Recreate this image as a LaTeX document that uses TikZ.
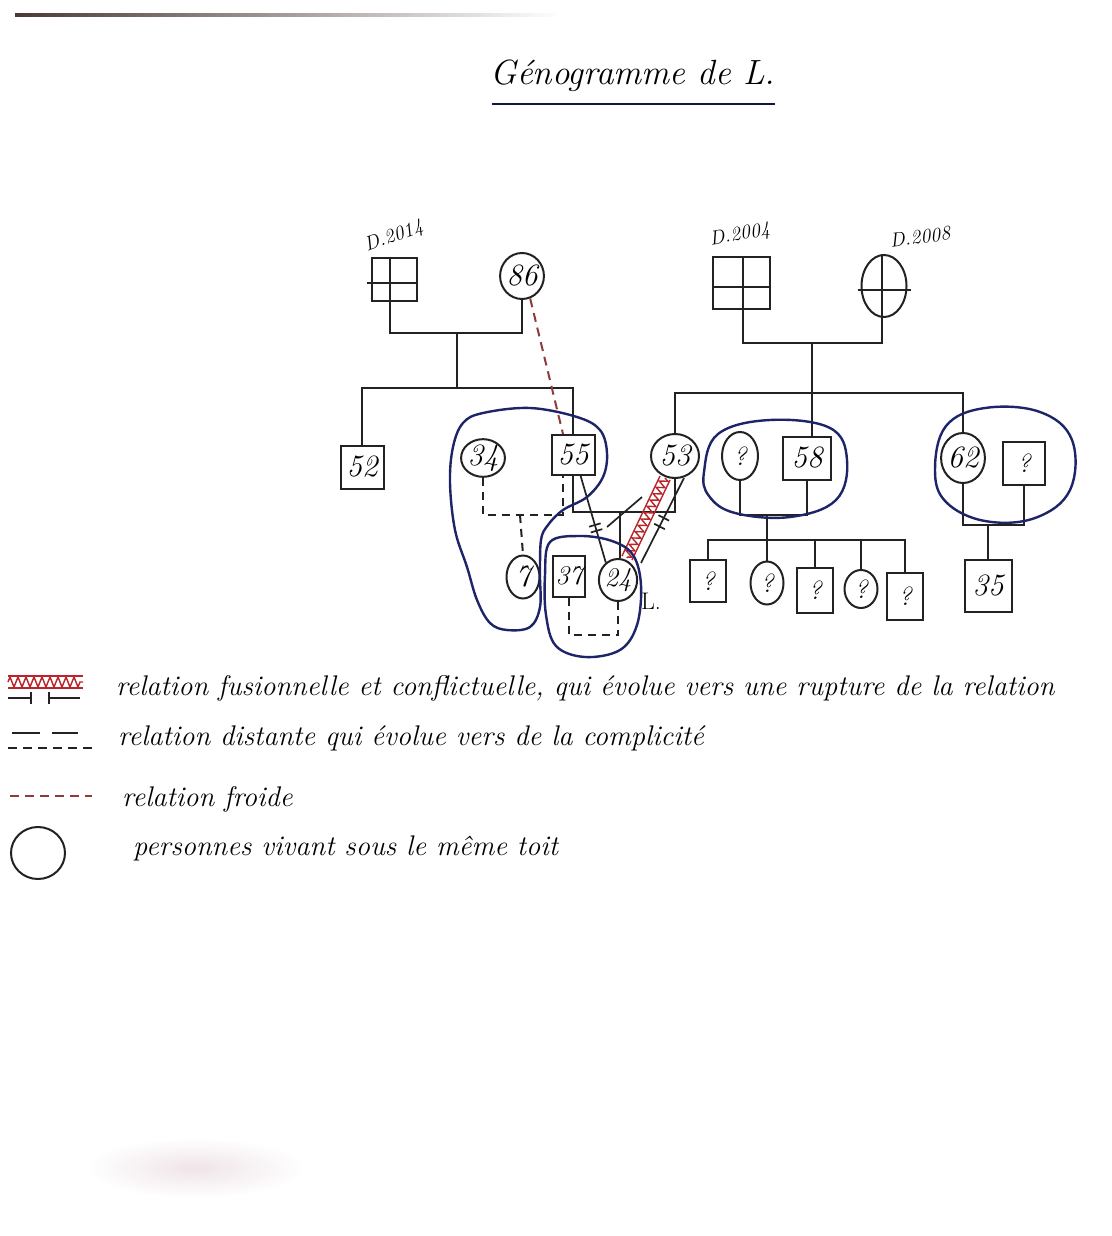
\documentclass[tikz,border=0pt]{standalone}
\usetikzlibrary{shapes.geometric,decorations.pathmorphing,decorations.markings,calc}
\definecolor{ink}{HTML}{222222}
\definecolor{navy}{HTML}{1E2468}
\definecolor{froid}{HTML}{8E3B3B}
\definecolor{zz}{HTML}{B8262B}
\definecolor{topline}{HTML}{4A3A36}
\definecolor{smudge}{HTML}{EFE4E8}
\newcommand\gnum{\fontsize{31}{33}\selectfont\itshape}
\newcommand\gqm{\fontsize{26}{28}\selectfont\itshape}
\newcommand\gleg{\fontsize{28.4}{30}\selectfont\itshape}
\begin{document}
\begin{tikzpicture}[x=1pt,y=-1pt,
  link/.style={draw=ink, line width=2pt},
  male/.style={rectangle, draw=ink, line width=2pt, inner sep=0pt, font=\gnum},
  female/.style={ellipse, draw=ink, line width=2pt, inner sep=0pt, font=\gnum},
  qm/.style={font=\gqm},
  union/.style={link, dash pattern=on 8pt off 6pt},
  froide/.style={draw=froid, line width=2pt, dash pattern=on 9pt off 6pt},
  home/.style={draw=navy, line width=2.4pt},
  dlabel/.style={font=\fontsize{20}{22}\selectfont\itshape, inner sep=0pt},
  legtext/.style={font=\gleg, anchor=west, inner sep=0pt},
  zig/.style={draw=zz, line width=1.4pt, decorate, decoration={zigzag, segment length=7pt, amplitude=4pt}},
  rupt/.style={link, line width=1.7pt, postaction={decorate}, decoration={markings,
     mark=at position 0.47 with {\draw[ink, line width=1.7pt] (0,-6) -- (0,6);},
     mark=at position 0.57 with {\draw[ink, line width=1.7pt] (0,-6) -- (0,6);}}}
]
\useasboundingbox (0,0) rectangle (1111,1236);
\fill[white] (0,0) rectangle (1111,1236);
% top edge of the sheet
\shade[left color=topline, right color=white] (15,13.5) rectangle (560,16.5);
% faint smudge of the photo
\shade[inner color=smudge, outer color=white] (195,1168) ellipse [x radius=110, y radius=30];

% title
\node[font=\fontsize{35}{37}\selectfont\itshape, inner sep=0pt] (title) at (633,76) {Génogramme de L.};
\draw[link, draw=navy!60!black] (492,104) -- (775,104);

% ---------- paternal grandparents ----------
\node[male, minimum width=45, minimum height=43] (gf1) at (394,279) {};
\draw[link] ([xshift=-4pt]gf1.north) -- ([xshift=-4pt]gf1.south);
\draw[link] ([xshift=-4pt,yshift=-4pt]gf1.west) -- ([yshift=-4pt]gf1.east);
\node[dlabel, rotate=20] (d1) at (394,237) {D.2014};
\node[female, minimum width=38, minimum height=46] (c86) at (522,276) {86};
\coordinate (mL) at (457,333);
\coordinate (sL) at (457,388);
\draw[link] ([xshift=-4pt]gf1.south) |- (mL) -| (c86.south);
\draw[link] (mL) -- (sL);

% ---------- maternal grandparents ----------
\node[male, minimum width=57, minimum height=52] (gf2) at (741,283) {};
\draw[link] ([xshift=2pt]gf2.north) -- ([xshift=2pt]gf2.south);
\draw[link] ([yshift=-4pt]gf2.west) -- ([yshift=-4pt]gf2.east);
\node[dlabel, rotate=10] (d2) at (740,235) {D.2004};
\node[female, minimum width=45, minimum height=62] (gm2) at (884,286) {};
\draw[link] ([xshift=-2pt]gm2.north) -- ([xshift=-2pt]gm2.south);
\draw[link] ([xshift=-3pt,yshift=-4pt]gm2.west) -- ([xshift=3pt,yshift=-4pt]gm2.east);
\node[dlabel, rotate=8] (d3) at (920,237) {D.2008};
\coordinate (mR) at (812,343);
\coordinate (sR) at (812,393);
\draw[link] ([xshift=2pt]gf2.south) |- (mR) -| ([xshift=-2pt]gm2.south);
\draw[link] (mR) -- (sR);

% ---------- generation 2 ----------
\node[male, minimum width=43, minimum height=43] (c52) at (362,467) {52};
\node[female, minimum width=40, minimum height=37] (c34) at (483,458) {34};
\node[male, minimum width=43, minimum height=40] (c55) at (573,455) {55};
\node[female, minimum width=48, minimum height=44] (c53) at (675,456) {53};
\node[female, qm, minimum width=36, minimum height=48] (q1) at (740,456) {?};
\node[male, minimum width=48, minimum height=43] (c58) at (807,458) {58};
\node[female, minimum width=40, minimum height=50] (c62) at (963,458) {62};
\node[male, qm, minimum width=42, minimum height=43] (q2) at (1024,463) {?};

\draw[link] (c52.north) |- (sL) -| (c55.north);
\draw[link] (c53.north) |- (sR) -| (c62.north);
\draw[link] (sR) -- (sR |- c58.north);

% ---------- generation 3 ----------
\node[female, minimum width=33, minimum height=43] (c7) at (523,577) {7};
\node[male, font=\fontsize{27}{29}\selectfont\itshape, minimum width=32, minimum height=41] (c37) at (569,576) {37};
\node[female, font=\fontsize{27}{29}\selectfont\itshape, minimum width=33, minimum height=42] (c24) at (618,580) {24};
\node[font=\fontsize{24}{26}\selectfont, inner sep=0pt] (lL) at (651,601) {L.};
\node[male, qm, minimum width=36, minimum height=42] (k1) at (708,581) {?};
\node[female, qm, minimum width=33, minimum height=43] (k2) at (767,583) {?};
\node[male, qm, minimum width=36, minimum height=45] (k3) at (815,590) {?};
\node[female, qm, minimum width=33, minimum height=38] (k4) at (861,589) {?};
\node[male, qm, minimum width=36, minimum height=47] (k5) at (905,596) {?};
\node[male, minimum width=47, minimum height=52] (c35) at (988,586) {35};

% 34 -- 55 (dashed union) and child 7
\coordinate (m3455) at (520,515);
\draw[union] (c34.south) |- (m3455) -| ([xshift=-10pt]c55.south);
\draw[union] (m3455) -- (c7.north);
% 55 -- 53 union and child 24
\coordinate (m5553) at (620,512);
\draw[link] (c55.south) |- (m5553) -| (c53.south);
\draw[link] (m5553) -- (m5553 |- c24.north);
% 37 -- 24 dashed union
\coordinate (m3724) at (593,635);
\draw[union] (c37.south) |- (m3724) -| (c24.south);
% ? -- 58 union and children
\coordinate (m58) at (767,515);
\coordinate (s58) at (767,540);
\draw[link] (q1.south) |- (m58) -| (c58.south);
\draw[link] (m58) -- (s58);
\draw[link] (k1.north) |- (s58) -| (k5.north);
\draw[link] (s58) -- (k2.north);
\draw[link] (k3.north) -- (k3.north |- s58);
\draw[link] (k4.north) -- (k4.north |- s58);
% 62 -- ? union and child 35
\coordinate (m62) at (988,525);
\draw[link] (c62.south) |- (m62) -| (q2.south);
\draw[link] (m62) -- (c35.north);

% ---------- emotional relations ----------
\draw[froide] (c86.-70) -- ([xshift=-10pt]c55.north);
% 55 -- 24
\draw[link, line width=1.7pt, postaction={decorate}, decoration={markings,
   mark=at position 0.6 with {\draw[ink, line width=1.7pt] (-3,-6) -- (-3,6) (3,-6) -- (3,6);}}]
   (c55.-70) -- (c24.125);
\coordinate (x1) at (607,527);
\coordinate (x2) at (642,497);
\draw[link, line width=1.7pt] (x1) -- (x2);
% 53 -- 24 fusional / conflictual, towards rupture
\coordinate (z1) at (665,478);  \coordinate (z2) at (627,558);
\coordinate (z1a) at (660,476); \coordinate (z2a) at (622,556);
\coordinate (z1b) at (670,480); \coordinate (z2b) at (632,560);
\coordinate (r1) at (684,478);  \coordinate (r2) at (641,563);
\draw[zig] (z1) -- (z2);
\draw[draw=zz, line width=1.4pt] (z1a) -- (z2a);
\draw[draw=zz, line width=1.4pt] (z1b) -- (z2b);
\draw[rupt] (r1) -- (r2);

% ---------- households ----------
\draw[home] plot[smooth cycle, tension=0.6] coordinates {
  (483,413) (530,408) (577,417) (600,430) (607,453) (603,477) (587,497) (563,510)
  (548,525) (541,540) (540,575) (540,607) (530,627) (507,630) (490,623) (477,600)
  (467,567) (455,530) (450,483) (453,447) (463,423)};
\draw[home] plot[smooth cycle, tension=0.6] coordinates {
  (550,542) (580,536) (612,541) (633,555) (641,585) (637,625) (620,650) (585,657)
  (556,646) (546,615) (545,575)};
\draw[home] plot[smooth cycle, tension=0.65] coordinates {
  (704,472) (718,434) (770,420) (830,428) (847,460) (836,500) (790,517) (735,513) (709,496)};
\draw[home] plot[smooth cycle, tension=0.65] coordinates {
  (935,470) (946,426) (985,408) (1040,412) (1072,440) (1070,490) (1035,518) (985,521) (946,502)};

% ---------- legend ----------
\draw[draw=zz, line width=1.4pt] (8,676) -- (83,676);
\draw[draw=zz, line width=1.4pt] (8,688) -- (83,688);
\draw[zig, decoration={zigzag, segment length=8pt, amplitude=5pt}] (8,682) -- (83,682);
\draw[link, line width=1.7pt] (8,698) -- (31,698) (31,692) -- (31,704) (49,692) -- (49,704) (49,698) -- (80,698);
\draw[link, line width=1.7pt] (12,733) -- (40,733) (52,733) -- (78,733);
\draw[link, line width=1.7pt, dash pattern=on 9pt off 6pt] (8,748) -- (92,748);
\draw[froide] (10,796) -- (92,796);
\node[ellipse, draw=ink, line width=2pt, minimum width=54, minimum height=52] (leg4) at (38,853) {};

\node[legtext] (t1) at (116,688) {relation fusionnelle et conflictuelle, qui évolue vers une rupture de la relation};
\node[legtext] (t2) at (118,738) {relation distante qui évolue vers de la complicité};
\node[legtext] (t3) at (122,799) {relation froide};
\node[legtext] (t4) at (133,848) {personnes vivant sous le même toit};
\end{tikzpicture}
\end{document}
